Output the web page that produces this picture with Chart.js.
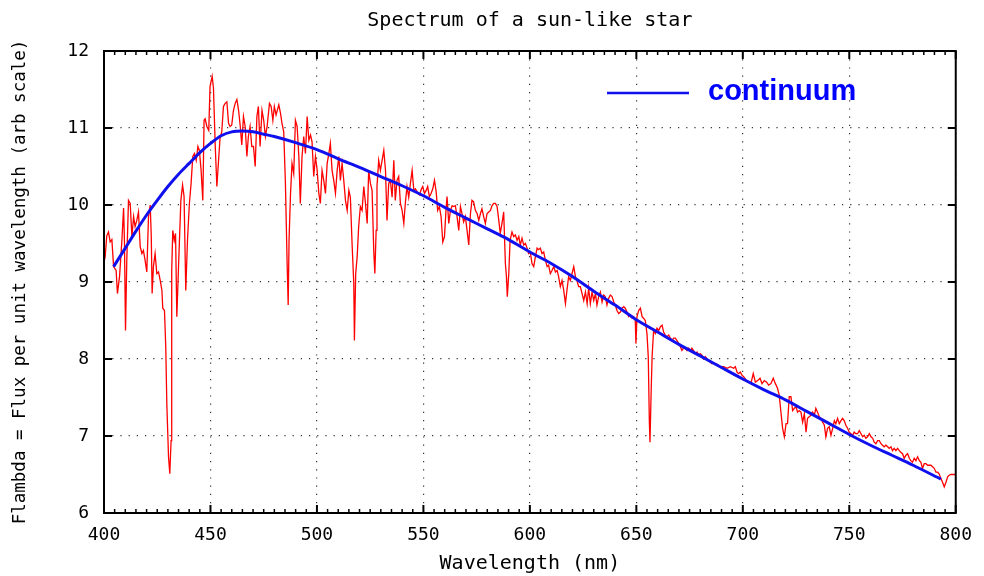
<!DOCTYPE html>
<html>
<head>
<meta charset="utf-8">
<title>Spectrum of a sun-like star</title>
<script src="https://cdn.jsdelivr.net/npm/chart.js@4.4.1/dist/chart.umd.min.js"></script>
<style>
  html, body { margin: 0; padding: 0; background: #ffffff; }
  #wrap { width: 984px; height: 576px; }
</style>
</head>
<body>
<div id="wrap"><canvas id="c" width="984" height="576"></canvas></div>
<script>
// ---- data ----
const chartTitle = 'Spectrum of a sun-like star';
const xTitle = 'Wavelength (nm)';
const yTitle = 'Flambda = Flux per unit wavelength (arb scale)';
const continuumLabel = 'continuum';

const xTickValues = [400, 450, 500, 550, 600, 650, 700, 750, 800];
const yTickValues = [6, 7, 8, 9, 10, 11, 12];

const specWl = [
  400.0,400.6,401.3,402.1,402.9,403.7,404.5,405.7,406.3,407.3,408.4,409.2,409.6,410.1,410.7,411.5,412.3,413.1,413.9,414.6,
  415.4,416.2,417.0,417.8,418.5,419.3,420.1,420.9,421.7,422.2,422.6,423.2,424.0,424.8,425.6,426.4,427.2,427.6,428.4,429.0,
  429.5,430.3,430.9,431.5,431.8,432.3,433.0,433.6,434.2,435.0,436.1,436.9,437.6,438.4,439.2,440.1,440.9,441.7,442.5,443.3,
  444.1,444.8,445.6,446.4,447.0,447.5,448.3,449.2,449.8,450.8,451.4,452.2,453.0,453.8,454.5,455.3,456.1,456.9,457.7,458.5,
  459.2,460.0,460.8,461.6,462.4,463.2,464.0,464.7,465.5,466.3,467.1,467.8,468.6,469.4,470.2,471.0,471.8,472.5,473.3,474.2,
  475.0,475.8,476.6,477.7,478.5,479.3,480.0,480.8,482.1,482.9,483.6,484.4,485.2,486.0,486.5,486.9,487.6,488.3,489.1,489.9,
  490.7,491.5,492.2,493.0,493.8,494.6,495.4,496.2,497.0,497.7,498.5,499.3,500.1,500.9,501.6,502.4,503.2,504.0,504.8,505.6,
  506.3,507.1,507.9,508.7,509.5,510.3,511.0,511.8,512.6,513.4,514.2,515.0,515.7,516.5,517.3,517.6,518.2,518.9,519.6,520.4,
  521.2,522.0,522.8,523.6,524.3,525.1,525.9,526.7,527.2,527.8,528.2,529.0,529.8,530.6,531.4,532.2,532.9,533.7,534.5,535.3,
  536.1,536.8,537.6,538.4,539.2,540.0,540.8,541.5,542.3,543.1,543.9,544.7,545.5,546.2,547.5,548.1,549.1,549.7,550.5,551.3,
  552.0,552.8,553.6,554.4,555.2,556.0,556.7,557.5,558.3,559.1,559.9,560.6,561.1,561.9,562.7,563.5,564.2,565.0,565.8,566.6,
  567.4,568.1,568.9,569.7,570.5,571.3,572.1,572.8,573.6,574.4,575.2,576.0,576.8,577.5,578.3,579.1,579.9,580.7,581.5,582.2,
  583.0,583.8,584.6,585.4,586.1,586.9,587.7,588.5,589.0,589.4,590.1,590.7,591.6,592.4,593.2,594.0,594.8,595.5,596.3,597.1,
  597.9,598.7,599.4,600.2,601.0,601.8,602.6,603.4,604.1,604.9,605.7,606.5,607.3,608.1,608.8,609.6,610.4,611.2,612.0,612.8,
  613.5,614.3,615.1,615.9,616.7,617.4,618.2,619.0,619.8,620.6,621.4,622.1,622.9,623.7,625.3,626.1,626.9,627.6,628.4,629.2,
  630.0,630.8,631.5,632.3,633.1,633.9,634.7,635.4,636.2,637.0,637.8,638.6,639.4,640.1,640.9,641.7,642.5,643.3,644.1,644.8,
  645.6,646.4,647.2,648.0,648.7,649.5,649.8,650.3,651.1,651.9,652.7,653.4,654.2,655.0,655.6,656.1,656.4,656.9,657.4,658.1,
  658.9,659.7,660.5,661.3,662.1,662.8,663.6,664.4,665.2,666.0,666.8,667.5,668.3,669.1,669.9,670.7,671.4,672.2,673.0,673.8,
  674.6,675.4,676.1,676.9,677.7,678.5,679.3,680.0,680.8,681.6,682.4,683.2,684.0,684.7,685.5,686.3,687.1,687.9,689.4,691.0,
  692.6,694.1,695.7,696.5,697.3,698.0,698.8,699.6,700.4,702.3,703.8,704.9,705.9,707.0,708.1,709.0,710.1,711.2,712.1,713.2,
  714.3,715.3,716.3,717.1,717.9,718.7,719.5,720.3,721.0,721.8,722.6,723.4,724.2,725.0,725.7,726.5,727.3,728.1,728.9,729.7,
  730.4,731.2,732.0,732.8,733.6,734.3,735.1,735.9,736.7,737.5,738.3,739.0,739.8,740.6,741.4,742.2,743.0,743.7,744.5,745.3,
  746.1,746.9,747.6,748.4,749.2,750.0,750.8,751.6,752.3,753.1,753.9,754.7,755.5,756.3,757.0,757.8,758.6,759.4,760.2,761.0,
  761.7,762.5,763.3,764.1,764.9,765.6,766.4,767.2,768.0,768.8,769.6,770.3,771.1,771.9,772.7,773.5,774.2,775.0,775.8,776.6,
  777.4,778.2,778.9,779.7,780.5,781.3,782.1,782.9,783.6,784.4,785.2,786.0,786.8,787.6,788.3,789.1,789.9,790.7,791.5,792.2,
  793.0,793.8,794.6,795.4,796.2,796.9,797.7,799.3,800.0
];
const specFlux = [
  9.45,9.35,9.60,9.65,9.52,9.55,9.20,9.15,8.85,9.07,9.54,9.96,9.54,8.37,9.28,10.06,10.02,9.59,9.85,9.72,
  9.80,9.91,9.46,9.37,9.41,9.28,9.13,9.85,10.00,9.59,8.85,9.20,9.37,9.11,9.13,9.02,8.89,8.66,8.63,8.16,
  7.42,6.73,6.51,6.94,9.15,9.67,9.54,9.63,8.55,9.20,10.06,10.26,10.11,8.89,9.54,10.02,10.28,10.63,10.67,10.58,
  10.76,10.71,10.45,10.06,11.10,11.12,11.02,10.97,11.54,11.67,11.52,10.80,10.24,10.58,10.87,10.95,11.28,11.32,11.34,11.06,
  11.02,11.04,11.23,11.32,11.37,11.23,11.02,10.78,11.15,11.02,10.63,10.89,11.02,10.76,10.76,10.50,11.15,11.28,10.76,11.23,
  11.10,10.89,11.02,11.32,11.28,11.10,11.28,11.17,11.30,11.19,11.06,10.95,10.28,9.24,8.70,9.54,10.15,10.54,10.41,11.10,
  11.02,10.63,10.02,10.63,10.89,10.67,11.15,10.84,10.91,10.82,10.37,10.63,10.45,10.15,10.02,10.45,10.32,10.15,10.54,10.67,
  10.80,10.45,10.32,10.15,10.45,10.63,10.32,10.54,10.32,10.06,9.93,10.19,10.10,9.50,8.98,8.24,9.11,9.33,9.72,9.98,
  9.93,10.24,10.02,9.76,10.45,10.28,10.19,9.39,9.11,9.67,10.24,10.58,10.45,10.58,10.71,10.45,9.80,10.28,10.32,10.10,
  10.58,10.06,10.32,10.37,10.02,9.93,9.76,10.02,10.24,10.10,10.28,10.45,10.19,10.21,10.15,10.13,10.21,10.24,10.15,10.19,
  10.24,10.11,10.15,10.21,10.32,10.17,9.93,9.98,9.85,9.52,9.59,9.93,10.11,9.76,9.93,9.99,9.98,9.99,9.85,9.67,
  9.98,9.89,9.78,9.85,9.67,9.48,9.89,10.06,10.04,9.93,9.89,9.80,9.89,9.95,9.85,9.76,9.89,9.91,9.93,9.99,
  10.02,10.02,9.98,9.80,9.63,9.76,9.91,9.24,9.07,8.81,9.11,9.54,9.65,9.59,9.61,9.54,9.59,9.48,9.57,9.48,
  9.50,9.44,9.37,9.39,9.24,9.20,9.33,9.44,9.42,9.44,9.37,9.39,9.28,9.20,9.22,9.11,9.15,9.20,9.13,9.15,
  9.07,8.94,9.02,8.89,8.72,8.89,9.07,9.02,9.11,9.20,9.07,9.02,8.94,8.94,8.76,8.87,8.72,8.92,8.72,8.87,
  8.76,8.85,8.70,8.81,8.87,8.74,8.83,8.81,8.70,8.79,8.83,8.81,8.74,8.70,8.63,8.59,8.61,8.66,8.68,8.66,
  8.61,8.55,8.57,8.53,8.55,8.50,8.20,8.55,8.63,8.66,8.55,8.53,8.50,8.33,8.03,7.20,6.92,7.51,8.03,8.37,
  8.33,8.40,8.37,8.42,8.44,8.35,8.31,8.29,8.31,8.27,8.24,8.27,8.27,8.24,8.20,8.16,8.11,8.14,8.14,8.11,
  8.14,8.11,8.14,8.11,8.07,8.09,8.05,8.07,8.05,8.00,8.03,8.00,7.98,7.96,7.94,7.95,7.94,7.93,7.90,7.90,
  7.88,7.90,7.88,7.90,7.83,7.81,7.83,7.79,7.77,7.70,7.68,7.81,7.70,7.72,7.75,7.68,7.72,7.70,7.66,7.68,
  7.75,7.68,7.62,7.53,7.31,7.10,6.99,7.16,7.16,7.51,7.51,7.33,7.36,7.38,7.31,7.33,7.31,7.18,7.29,7.05,
  7.23,7.25,7.27,7.31,7.27,7.36,7.31,7.25,7.23,7.18,7.14,6.99,7.10,7.12,7.01,7.10,7.20,7.16,7.23,7.16,
  7.20,7.23,7.20,7.14,7.10,7.05,7.03,7.01,7.05,7.03,7.03,7.07,7.03,6.99,7.01,6.97,6.99,7.03,6.99,6.97,
  6.92,6.90,6.94,6.94,6.90,6.88,6.86,6.88,6.86,6.84,6.86,6.81,6.84,6.81,6.84,6.81,6.79,6.77,6.71,6.75,
  6.77,6.71,6.68,6.66,6.71,6.68,6.73,6.68,6.66,6.58,6.64,6.64,6.62,6.62,6.62,6.60,6.58,6.53,6.53,6.51,
  6.45,6.40,6.34,6.40,6.47,6.49,6.50,6.50,6.50
];

const contWl = [404.5,410,415,420,425,430,435,440,445,450,455,460,465,470,475,480,490,500,510,520,
  530,540,550,560,570,580,590,600,610,620,630,640,650,660,670,680,690,700,710,720,
  730,740,750,760,770,780,793];
const contFlux = [9.20,9.44,9.66,9.87,10.06,10.24,10.40,10.54,10.68,10.80,10.90,10.95,10.96,10.95,10.92,10.89,10.81,10.72,10.60,10.49,
  10.37,10.25,10.12,9.97,9.83,9.69,9.55,9.39,9.24,9.07,8.88,8.70,8.51,8.35,8.19,8.04,7.89,7.74,7.60,7.47,
  7.32,7.17,7.02,6.88,6.75,6.62,6.44];

// ---- build datasets from the arrays ----
const toPoints = (xs, ys) => xs.map((v, i) => ({ x: v, y: ys[i] }));

const MONO = '"DejaVu Sans Mono", "Liberation Mono", monospace';

// frame with inward ticks (gnuplot style)
const framePlugin = {
  id: 'frameTicks',
  afterDatasetsDraw(chart) {
    const { ctx, chartArea: a, scales } = chart;
    const xs = scales.x, ys = scales.y;
    ctx.save();
    ctx.strokeStyle = '#000';
    ctx.lineCap = 'butt';
    const seg = (x1, y1, x2, y2, w) => {
      ctx.lineWidth = w;
      ctx.beginPath(); ctx.moveTo(x1, y1); ctx.lineTo(x2, y2); ctx.stroke();
    };
    const minorStep = (xTickValues[1] - xTickValues[0]) / 10;
    for (let v = xs.min; v <= xs.max + 1e-9; v += minorStep) {
      const px = xs.getPixelForValue(v);
      const major = xTickValues.some(t => Math.abs(t - v) < 1e-6);
      const len = major ? 8 : 4;
      const w = major ? 2 : 1.5;
      seg(px, a.bottom, px, a.bottom - len, w);
      seg(px, a.top, px, a.top + len, w);
    }
    yTickValues.forEach(v => {
      const py = ys.getPixelForValue(v);
      seg(a.left, py, a.left + 8, py, 2);
      seg(a.right, py, a.right - 8, py, 2);
    });
    ctx.lineWidth = 2;
    ctx.strokeRect(a.left, a.top, a.right - a.left, a.bottom - a.top);
    ctx.restore();
  }
};

// key in the upper right, like the reference
const keyPlugin = {
  id: 'keyBox',
  afterDraw(chart) {
    const { ctx, chartArea: a } = chart;
    const ds = chart.data.datasets[0];
    const y = a.top + 42;
    ctx.save();
    ctx.strokeStyle = ds.borderColor;
    ctx.lineWidth = 2.5;
    ctx.beginPath();
    ctx.moveTo(a.left + 503, y);
    ctx.lineTo(a.left + 585, y);
    ctx.stroke();
    ctx.fillStyle = '#0000ff';
    ctx.font = 'bold 29px "Liberation Sans", Arial, sans-serif';
    ctx.textBaseline = 'middle';
    ctx.textAlign = 'left';
    ctx.fillText(ds.label, a.left + 604, y - 1);
    ctx.restore();
  }
};

new Chart(document.getElementById('c'), {
  type: 'line',
  data: {
    datasets: [
      {
        label: continuumLabel,
        data: toPoints(contWl, contFlux),
        borderColor: '#1010ee',
        borderWidth: 3,
        pointRadius: 0,
        tension: 0.3,
        fill: false
      },
      {
        label: 'spectrum',
        data: toPoints(specWl, specFlux),
        borderColor: '#ff0000',
        borderWidth: 1.3,
        pointRadius: 0,
        tension: 0,
        fill: false
      }
    ]
  },
  options: {
    responsive: false,
    devicePixelRatio: 1,
    animation: false,
    layout: { padding: { left: 0, right: 28, top: 0, bottom: 0 } },
    plugins: {
      legend: { display: false },
      tooltip: { enabled: false },
      title: {
        display: true,
        text: chartTitle,
        fullSize: false,
        color: '#000',
        font: { family: MONO, size: 20, weight: 'normal', lineHeight: 1.2 },
        padding: { top: 9, bottom: 18 }
      }
    },
    scales: {
      x: {
        type: 'linear',
        min: xTickValues[0],
        max: xTickValues[xTickValues.length - 1],
        afterBuildTicks: (s) => { s.ticks = xTickValues.map(v => ({ value: v })); },
        ticks: { color: '#000', font: { family: MONO, size: 18 }, padding: 12, maxRotation: 0 },
        grid: { display: true, drawTicks: false, color: '#333', lineWidth: 1.2 },
        border: { display: false, dash: [1.2, 7] },
        title: { display: true, text: xTitle, color: '#000', font: { family: MONO, size: 20 }, padding: { top: 0, bottom: 0 } },
        afterFit: (s) => { s.height = 63; }
      },
      y: {
        type: 'linear',
        min: yTickValues[0],
        max: yTickValues[yTickValues.length - 1],
        afterBuildTicks: (s) => { s.ticks = yTickValues.map(v => ({ value: v })); },
        ticks: { color: '#000', font: { family: MONO, size: 18 }, padding: 15 },
        grid: { display: true, drawTicks: false, color: '#333', lineWidth: 1.2 },
        border: { display: false, dash: [1.2, 7] },
        title: { display: true, text: yTitle, color: '#000', font: { family: MONO, size: 17.5 }, padding: { top: 10, bottom: 0 } },
        afterFit: (s) => { s.width = 104; }
      }
    }
  },
  plugins: [framePlugin, keyPlugin]
});
</script>
</body>
</html>
